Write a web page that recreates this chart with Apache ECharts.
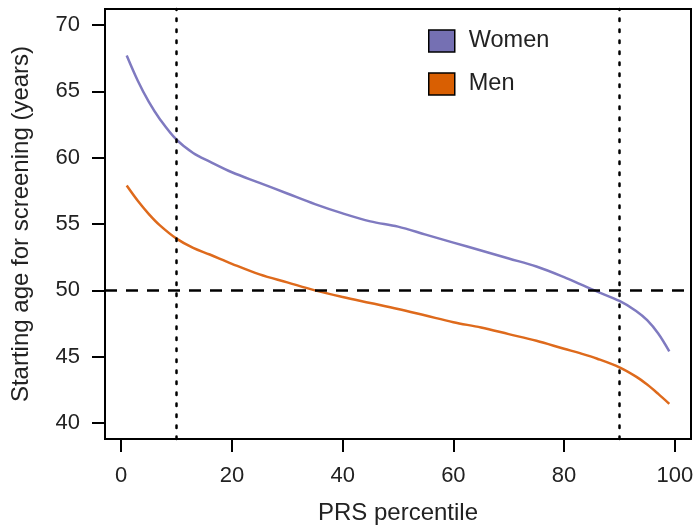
<!DOCTYPE html>
<html>
<head>
<meta charset="utf-8">
<script src="https://cdn.jsdelivr.net/npm/echarts@6/dist/echarts.min.js"></script>
<style>html,body{margin:0;padding:0;background:#fff}#c{width:697px;height:525px}</style>
</head>
<body>
<div id="c"></div>
<script>
var percentiles = [1,3,5,7,10,13,16,20,25,30,35,40,45,50,55,60,65,70,75,80,83,86,90,93,95,97,99];
var women = [67.7,65.8,64.2,62.9,61.35,60.35,59.7,58.9,58.1,57.3,56.5,55.8,55.2,54.8,54.2,53.6,53.0,52.4,51.8,51.0,50.45,49.9,49.2,48.45,47.75,46.75,45.4];
var men = [57.9,56.75,55.75,54.9,53.9,53.2,52.7,52.0,51.2,50.6,50.0,49.5,49.05,48.6,48.1,47.6,47.2,46.7,46.2,45.6,45.25,44.85,44.2,43.5,42.9,42.2,41.45];
var xTicks = [0,20,40,60,80,100];
var yTicks = [40,45,50,55,60,65,70];
var vLines = [10,90];
var hLine = 50;

function pairs(ys){ return percentiles.map(function(x,i){ return [x, ys[i]]; }); }

var font = 'Liberation Sans, Arial, Helvetica, sans-serif';
var chart = echarts.init(document.getElementById('c'));
chart.setOption({
  animation: false,
  backgroundColor: '#fff',
  grid: { left: 105, top: 9, right: 6, bottom: 86, outerBoundsMode: 'none', containLabel: false, show: true, borderColor: '#000', borderWidth: 2, backgroundColor: 'transparent' },
  legend: {
    orient: 'vertical', left: 423, top: 24, itemWidth: 26, itemHeight: 22, itemGap: 19,
    icon: 'rect',
    textStyle: { fontFamily: font, fontSize: 23.5, color: '#222', padding: [0,0,0,9] },
    itemStyle: { borderColor: '#000', borderWidth: 1.5 },
    data: ['Women', 'Men']
  },
  xAxis: {
    type: 'value', min: -2.92, max: 102.92,
    name: 'PRS percentile', nameLocation: 'middle', nameGap: 62,
    nameTextStyle: { fontFamily: font, fontSize: 24, color: '#222' },
    axisLine: { show: true, onZero: false, lineStyle: { color: '#000', width: 2 } },
    axisTick: { show: true, length: 13, lineStyle: { color: '#000', width: 2 }, customValues: xTicks },
    axisLabel: { fontFamily: font, fontSize: 22, color: '#222', margin: 26, customValues: xTicks },
    splitLine: { show: false }
  },
  yAxis: {
    type: 'value', min: 38.8, max: 71.2,
    name: 'Starting age for screening (years)', nameLocation: 'middle', nameGap: 72,
    nameTextStyle: { fontFamily: font, fontSize: 24, color: '#222' },
    axisLine: { show: true, onZero: false, lineStyle: { color: '#000', width: 2 } },
    axisTick: { show: true, length: 13, lineStyle: { color: '#000', width: 2 }, customValues: yTicks },
    axisLabel: { fontFamily: font, fontSize: 22, color: '#222', margin: 25, customValues: yTicks },
    splitLine: { show: false }
  },
  series: [
    {
      name: 'Women', type: 'line', data: pairs(women), smooth: 0.35, showSymbol: false, symbol: 'none',
      lineStyle: { color: '#7f7ac0', width: 2.5 }, itemStyle: { color: '#7570b3' },
      markLine: {
        silent: true, symbol: 'none', label: { show: false },
        lineStyle: { color: '#000', width: 2.5, type: [2.5, 8.5], cap: 'round' },
        data: vLines.map(function(v){ return { xAxis: v }; })
      }
    },
    {
      name: 'Men', type: 'line', data: pairs(men), smooth: 0.35, showSymbol: false, symbol: 'none',
      lineStyle: { color: '#de6a1c', width: 2.5 }, itemStyle: { color: '#d95f02' },
      markLine: {
        silent: true, symbol: 'none', label: { show: false },
        lineStyle: { color: '#000', width: 2.5, type: [12, 9] },
        data: [{ yAxis: hLine }]
      }
    }
  ]
});
</script>
</body>
</html>
